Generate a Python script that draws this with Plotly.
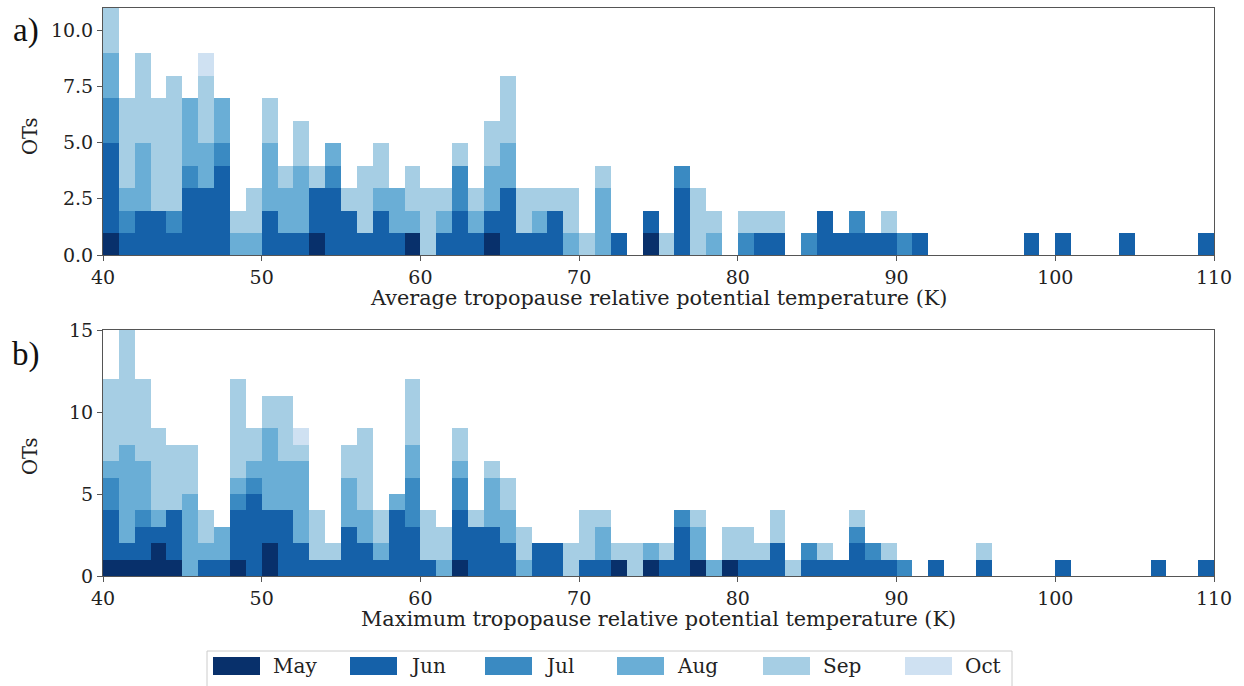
import plotly.graph_objects as go

# ---------------- data ----------------
months = ["May", "Jun", "Jul", "Aug", "Sep", "Oct"]
colors = ["#08306b", "#1561a9", "#3a8ac2", "#6aaed6", "#a6cee4", "#cfe1f2"]
bin_left = list(range(40, 110))  # 1 K bins, 40..110

# a) Average tropopause relative potential temperature
may_a = [1,0,0,0,0,0,0,0,0,0, 0,0,0,1,0,0,0,0,0,1, 0,0,0,0,1,0,0,0,0,0, 0,0,0,0,1,0,0,0,0,0,
         0,0,0,0,0,0,0,0,0,0, 0,0,0,0,0,0,0,0,0,0, 0,0,0,0,0,0,0,0,0,0]
jun_a = [4,1,2,2,1,3,3,4,0,0, 2,1,1,2,3,2,1,2,1,0, 0,1,2,1,1,3,1,1,2,0, 0,0,1,0,1,0,3,0,0,0,
         0,1,1,0,0,2,1,1,1,1, 0,1,0,0,0,0,0,0,1,0, 1,0,0,0,1,0,0,0,0,1]
jul_a = [2,1,0,0,1,1,0,1,0,0, 0,0,0,0,1,0,0,0,0,0, 0,0,2,0,0,0,0,0,0,0, 0,0,0,0,0,0,1,0,0,0,
         1,0,0,0,1,0,0,1,0,0, 1,0,0,0,0,0,0,0,0,0, 0,0,0,0,0,0,0,0,0,0]
aug_a = [2,1,3,0,0,3,2,2,1,1, 3,2,3,0,1,0,0,1,2,1, 0,1,0,1,2,2,0,1,0,1, 0,3,0,0,0,0,0,0,1,0,
         0,0,0,0,0,0,0,0,0,0, 0,0,0,0,0,0,0,0,0,0, 0,0,0,0,0,0,0,0,0,0]
sep_a = [2,4,4,5,6,0,3,0,1,2, 2,1,2,1,0,1,3,2,0,2, 3,1,1,1,2,3,2,1,1,2, 1,1,0,0,0,1,0,3,1,0,
         1,1,1,0,0,0,0,0,0,1, 0,0,0,0,0,0,0,0,0,0, 0,0,0,0,0,0,0,0,0,0]
oct_a = [0,0,0,0,0,0,1,0,0,0, 0,0,0,0,0,0,0,0,0,0, 0,0,0,0,0,0,0,0,0,0, 0,0,0,0,0,0,0,0,0,0,
         0,0,0,0,0,0,0,0,0,0, 0,0,0,0,0,0,0,0,0,0, 0,0,0,0,0,0,0,0,0,0]

# b) Maximum tropopause relative potential temperature
may_b = [1,1,1,2,1,0,0,0,1,0, 2,0,0,0,0,0,0,0,0,0, 0,0,1,0,0,0,0,0,0,0, 0,0,1,0,1,0,0,1,0,1,
         0,0,0,0,0,0,0,0,0,0, 0,0,0,0,0,0,0,0,0,0, 0,0,0,0,0,0,0,0,0,0]
jun_b = [3,1,2,1,3,0,1,1,3,5, 2,4,2,1,1,3,2,1,4,3, 1,0,3,3,3,2,0,2,2,0, 1,1,0,0,0,1,3,0,0,0,
         1,1,2,0,1,1,1,2,1,1, 0,0,1,0,0,1,0,0,0,0, 1,0,0,0,0,0,1,0,0,1]
jul_b = [2,0,1,0,0,0,0,0,1,1, 0,0,0,0,0,0,0,0,0,3, 0,0,2,0,0,0,0,0,0,0, 0,0,0,0,0,0,1,0,0,0,
         0,0,0,0,1,0,0,1,1,0, 1,0,0,0,0,0,0,0,0,0, 0,0,0,0,0,0,0,0,0,0]
aug_b = [1,6,3,1,0,5,1,2,1,1, 5,3,5,0,0,3,2,1,1,2, 0,1,1,0,3,2,1,0,0,0, 0,2,0,0,1,0,0,2,1,0,
         0,0,0,0,0,0,0,0,0,0, 0,0,0,0,0,0,0,0,0,0, 0,0,0,0,0,0,0,0,0,0]
sep_b = [5,7,5,5,4,3,2,0,6,2, 2,4,1,3,1,2,5,2,0,4, 3,2,2,1,1,2,2,0,0,2, 3,1,1,2,0,1,0,1,0,2,
         2,1,2,1,0,1,0,1,0,1, 0,0,0,0,0,1,0,0,0,0, 0,0,0,0,0,0,0,0,0,0]
oct_b = [0,0,0,0,0,0,0,0,0,0, 0,0,1,0,0,0,0,0,0,0, 0,0,0,0,0,0,0,0,0,0, 0,0,0,0,0,0,0,0,0,0,
         0,0,0,0,0,0,0,0,0,0, 0,0,0,0,0,0,0,0,0,0, 0,0,0,0,0,0,0,0,0,0]

panel_a = [may_a, jun_a, jul_a, aug_a, sep_a, oct_a]
panel_b = [may_b, jun_b, jul_b, aug_b, sep_b, oct_b]

x_ticks = [40, 50, 60, 70, 80, 90, 100, 110]
xlabel_a = "Average tropopause relative potential temperature (K)"
xlabel_b = "Maximum tropopause relative potential temperature (K)"
ylabel = "OTs"

# ---------------- figure ----------------
W, H = 1244, 686
def px(x):
    return x / W
def py(y):
    return 1 - y / H

centers = [b + 0.5 for b in bin_left]
fig = go.Figure()
for vals, xa, ya in [(panel_a, "x", "y"), (panel_b, "x2", "y2")]:
    for m, c, v in zip(months, colors, vals):
        fig.add_trace(go.Bar(x=centers, y=v, width=1, name=m, marker=dict(color=c, line=dict(width=0)),
                             xaxis=xa, yaxis=ya, showlegend=False))

FONT = "DejaVu Serif"
tickfont = dict(family=FONT, size=19, color="#222")
axcommon = dict(showline=True, mirror=True, linecolor="#555", linewidth=1, ticks="outside",
                ticklen=5, tickcolor="#555", showgrid=False, zeroline=False, tickfont=tickfont,
                automargin=False)

fig.update_layout(
    width=W, height=H, margin=dict(l=0, r=0, t=0, b=0, pad=0, autoexpand=False),
    paper_bgcolor="white", plot_bgcolor="white", barmode="stack", bargap=0,
    xaxis=dict(domain=[px(103), px(1214)], range=[40, 110], tickvals=x_ticks, anchor="y", **axcommon),
    yaxis=dict(domain=[py(255), py(7.5)], range=[0, 11], tickvals=[0, 2.5, 5, 7.5, 10],
               tickformat=".1f", anchor="x", **axcommon),
    xaxis2=dict(domain=[px(103), px(1214)], range=[40, 110], tickvals=x_ticks, anchor="y2", **axcommon),
    yaxis2=dict(domain=[py(576), py(330)], range=[0, 15], tickvals=[0, 5, 10, 15], anchor="x2", **axcommon),
)

def note(x, y, text, font, xanchor="center", angle=0):
    return dict(x=px(x), y=py(y), text=text, showarrow=False, xref="paper", yref="paper",
                xanchor=xanchor, yanchor="middle", textangle=angle, font=font)

ann = []
lab = dict(family=FONT, size=20.8, color="#222")
ann.append(note(658, 298, xlabel_a, lab))
ann.append(note(658, 619, xlabel_b, lab))
ylab = dict(family=FONT, size=19.5, color="#222")
ann.append(note(30, 136, ylabel, ylab, angle=-90))
ann.append(note(30, 456, ylabel, ylab, angle=-90))
panel_font = dict(family="Liberation Serif", size=33, color="#111")
ann.append(note(26, 30, "a)", panel_font))
ann.append(note(26, 354, "b)", panel_font))

# custom legend
shapes = [dict(type="rect", xref="paper", yref="paper", x0=px(207), x1=px(1012), y0=py(692), y1=py(651),
               line=dict(color="#cccccc", width=1), fillcolor="white", layer="below")]
patch_left = [213, 350, 485, 617, 763, 905]
for m, c, xl in zip(months, colors, patch_left):
    shapes.append(dict(type="rect", xref="paper", yref="paper", x0=px(xl), x1=px(xl + 47),
                       y0=py(675), y1=py(657), fillcolor=c, line=dict(width=0)))
    ann.append(note(xl + 58, 666, m, dict(family=FONT, size=20, color="#222"), xanchor="left"))

fig.update_layout(annotations=ann, shapes=shapes)
fig.write_html("out.html",
               post_script="document.body.style.margin='0';document.body.style.overflow='hidden';")
